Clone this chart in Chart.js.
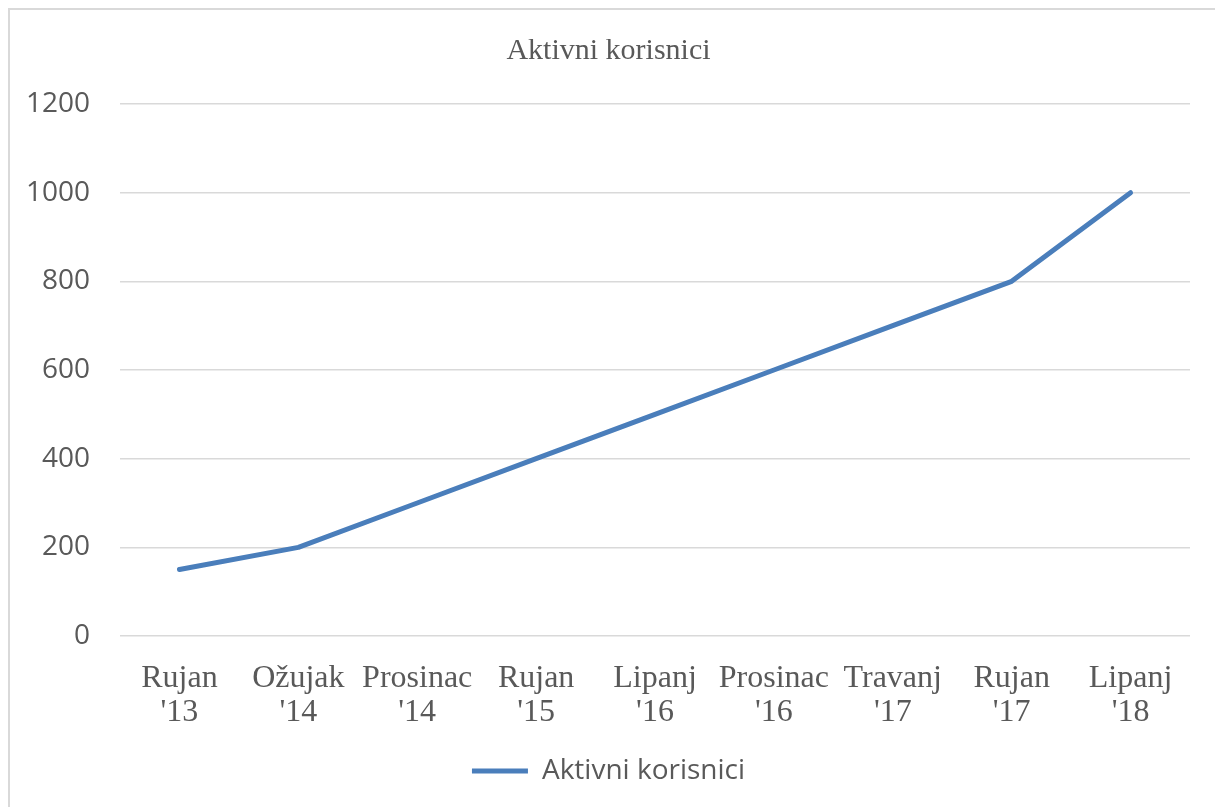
<!DOCTYPE html>
<html>
<head>
<meta charset="utf-8">
<script src="https://cdn.jsdelivr.net/npm/chart.js@4/dist/chart.umd.min.js"></script>
<style>
  html, body { margin: 0; padding: 0; background: #fff; overflow: hidden; }
  #wrap { position: relative; width: 1215px; height: 807px; }
  #frame {
    position: absolute; left: 8px; top: 8px; width: 1230px; height: 830px;
    border-left: 2px solid #d9d9d9; border-top: 2px solid #d9d9d9;
    pointer-events: none;
  }
  canvas { position: absolute; left: 0; top: 0; }
</style>
</head>
<body>
<div id="wrap">
  <canvas id="chart" width="1215" height="807"></canvas>
  <div id="frame"></div>
</div>
<script>
'use strict';

// ─── Data ────────────────────────────────────────────────────────────────────
const TITLE       = 'Aktivni korisnici';
const SERIES_NAME = 'Aktivni korisnici';
const CATEGORIES  = [
  ['Rujan', "'13"], ['Ožujak', "'14"], ['Prosinac', "'14"],
  ['Rujan', "'15"], ['Lipanj', "'16"], ['Prosinac', "'16"],
  ['Travanj', "'17"], ['Rujan', "'17"], ['Lipanj', "'18"],
];
const USERS  = [150, 200, 300, 400, 500, 600, 700, 800, 1000];
const Y_MIN  = 0;
const Y_MAX  = 1200;
const Y_STEP = 200;

// ─── Styles ──────────────────────────────────────────────────────────────────
const LINE_COLOR = '#4a7ebb';
const GRID_COLOR = '#d9d9d9';
const TEXT_COLOR = '#595959';
const SERIF = '"Liberation Serif", "Times New Roman", serif';
const SANS  = '"Open Sans", "Liberation Sans", sans-serif';

const ctx = document.getElementById('chart').getContext('2d');
new Chart(ctx, {
  type: 'line',
  data: {
    labels: CATEGORIES,
    datasets: [{
      label: SERIES_NAME,
      data: USERS,
      borderColor: LINE_COLOR,
      backgroundColor: LINE_COLOR,
      borderWidth: 5,
      borderCapStyle: 'round',
      borderJoinStyle: 'round',
      pointRadius: 0,
      pointHoverRadius: 0,
      tension: 0,
      fill: false,
    }],
  },
  options: {
    responsive: false,
    animation: false,
    devicePixelRatio: 1,
    layout: { padding: { left: 27, right: 25, top: 0, bottom: 12 } },
    plugins: {
      title: {
        display: true,
        text: TITLE,
        color: TEXT_COLOR,
        font: { family: SERIF, size: 30, weight: 'normal', lineHeight: 1.2 },
        padding: { top: 33, bottom: 35 },
      },
      legend: {
        position: 'bottom',
        labels: {
          usePointStyle: true,
          pointStyle: 'line',
          pointStyleWidth: 56,
          padding: 10,
          color: TEXT_COLOR,
          font: { family: SANS, size: 28 },
        },
      },
      tooltip: { enabled: false },
    },
    scales: {
      x: {
        offset: true,
        grid: { display: false },
        border: { display: false },
        ticks: {
          autoSkip: false,
          maxRotation: 0,
          padding: 18,
          color: TEXT_COLOR,
          font: { family: SERIF, size: 32, lineHeight: 34 / 32 },
        },
        afterFit: s => { s.height = 111; },
      },
      y: {
        min: Y_MIN,
        max: Y_MAX,
        grid: { color: GRID_COLOR, lineWidth: 1.5, drawTicks: false },
        border: { display: false },
        ticks: {
          stepSize: Y_STEP,
          padding: 30,
          color: TEXT_COLOR,
          font: { family: SANS, size: 28 },
          callback: v => String(v),
        },
        afterFit: s => { s.width = 93; },
      },
    },
  },
});
</script>
</body>
</html>
